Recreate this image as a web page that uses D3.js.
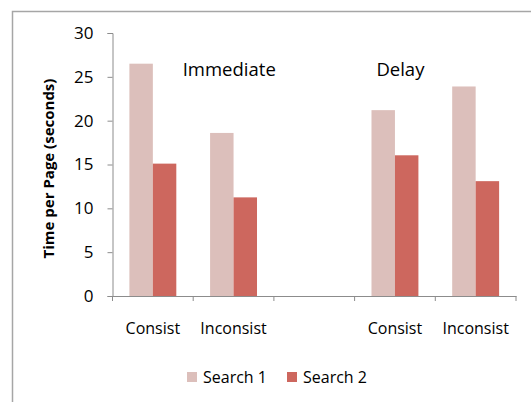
<!DOCTYPE html>
<html>
<head>
<meta charset="utf-8">
<script src="https://cdn.jsdelivr.net/npm/d3@7"></script>
<style>
    body { margin: 0; background: #fff; }
    svg { display: block; font-family: "Open Sans", "Noto Sans", sans-serif; }
</style>
</head>
<body>
<svg id="chart"></svg>
<script>
// chart data
const categories = ["c1", "c2", "gap", "c3", "c4"];
const categoryLabels = ["Consist", "Inconsist", "", "Consist", "Inconsist"];
const seriesNames = ["Search 1", "Search 2"];
const search1 = [26.5, 18.6, null, 21.2, 23.9];
const search2 = [15.1, 11.25, null, 16.05, 13.1];
const yTicks = [0, 5, 10, 15, 20, 25, 30];
const groupLabels = [
    { text: "Immediate", at: "c1", dx: 0.87, value: 25.1 },
    { text: "Delay", at: "c3", dx: 0.27, value: 25.1 }
];

const width = 531;
const height = 402;
const colors = ["#dcbfbb", "#cd675e"];

const svg = d3.select("#chart").attr("width", width).attr("height", height);

// outer chart frame
svg.append("path")
    .attr("d", `M12.5,${height} V11.5 H${width}`)
    .attr("fill", "none")
    .attr("stroke", "#a6a6a6")
    .attr("stroke-width", 1.5);

const margin = { left: 112.5, right: 15, top: 33, bottom: 106 };

const x = d3.scaleBand()
    .domain(categories)
    .range([margin.left, width - margin.right])
    .padding(0);

const y = d3.scaleLinear()
    .domain([0, 30])
    .range([height - margin.bottom, margin.top]);

// axes
const yAxis = svg.append("g")
    .attr("transform", `translate(${margin.left},0)`)
    .call(d3.axisLeft(y).tickValues(yTicks).tickSize(5).tickPadding(14));

const xAxis = svg.append("g")
    .attr("transform", `translate(0,${y(0)})`)
    .call(d3.axisBottom(x).tickSize(0).tickFormat(""));

// tick marks between the categories
const bounds = categories.map(c => x(c)).concat([x(categories[categories.length - 1]) + x.bandwidth()]);
xAxis.selectAll(".sep")
    .data(bounds)
    .enter()
    .append("line")
    .attr("x1", d => d)
    .attr("x2", d => d)
    .attr("y1", 0)
    .attr("y2", 5)
    .attr("stroke", "#8c8c8c");

[yAxis, xAxis].forEach(ax => {
    ax.select(".domain").attr("stroke", "#8c8c8c");
    ax.selectAll(".tick line").attr("stroke", "#8c8c8c");
    ax.selectAll("text").attr("font-size", 17).attr("fill", "#000").attr("font-family", "Open Sans, sans-serif");
});

// bars
const inner = d3.scaleBand()
    .domain(seriesNames)
    .range([0, x.bandwidth()])
    .paddingOuter(0.72)
    .paddingInner(0);

const data = [search1, search2];
seriesNames.forEach((name, s) => {
    svg.append("g")
        .selectAll("rect")
        .data(categories.map((c, i) => ({ c: c, v: data[s][i] })).filter(d => d.v !== null))
        .enter()
        .append("rect")
        .attr("x", d => x(d.c) + inner(name))
        .attr("y", d => y(d.v))
        .attr("width", inner.bandwidth())
        .attr("height", d => y(0) - y(d.v))
        .attr("fill", colors[s]);
});

// category labels
svg.append("g")
    .selectAll("text")
    .data(categories)
    .enter()
    .append("text")
    .attr("x", d => x(d) + x.bandwidth() / 2)
    .attr("y", y(0) + 38)
    .attr("text-anchor", "middle")
    .attr("font-size", 16)
    .text((d, i) => categoryLabels[i]);

// group labels
svg.append("g")
    .selectAll("text")
    .data(groupLabels)
    .enter()
    .append("text")
    .attr("x", d => x(d.at) + x.bandwidth() * d.dx)
    .attr("y", d => y(d.value))
    .attr("font-size", 18.5)
    .text(d => d.text);

// y title
svg.append("text")
    .attr("transform", `translate(54,${(y(0) + y(30)) / 2 + 4}) rotate(-90)`)
    .attr("text-anchor", "middle")
    .attr("font-size", 15)
    .attr("font-weight", "bold")
    .text("Time per Page (seconds)");

// legend
const legend = svg.append("g").attr("transform", "translate(187,372)");
const legendX = [0, 100];
seriesNames.forEach((name, s) => {
    const item = legend.append("g").attr("transform", `translate(${legendX[s]},0)`);
    item.append("rect")
        .attr("width", 10)
        .attr("height", 10)
        .attr("fill", colors[s]);
    item.append("text")
        .attr("x", 16)
        .attr("y", 11)
        .attr("font-size", 16)
        .text(name);
});
</script>
</body>
</html>
